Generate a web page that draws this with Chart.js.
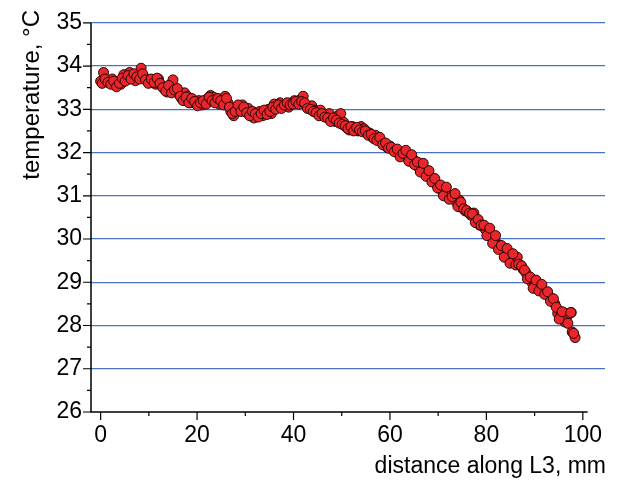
<!DOCTYPE html>
<html>
<head>
<meta charset="utf-8">
<script src="https://cdn.jsdelivr.net/npm/chart.js@4.4.1/dist/chart.umd.min.js"></script>
<style>
  html, body { margin: 0; padding: 0; background: #fff; }
</style>
</head>
<body>
<canvas id="chart" width="620" height="486"></canvas>
<script>
// distance along L3 (mm), first pass of readings
const distance = [
  0, 0.6, 1.2, 1.8, 2.4, 3.0, 3.6, 4.2, 4.8, 5.4, 6.0, 6.6, 7.2, 7.8, 8.4, 9.0, 9.6,
  10.2, 10.8, 11.4, 12.0, 12.6, 13.2, 13.8, 14.4, 15.0, 15.6, 16.2, 16.8, 17.4, 18.0, 18.6, 19.2, 19.8,
  20.4, 21.0, 21.6, 22.2, 22.8, 23.4, 24.0, 24.6, 25.2, 25.8, 26.4, 27.0, 27.6, 28.2, 28.8, 29.4, 30.0,
  30.6, 31.2, 31.8, 32.4, 33.0, 33.6, 34.2, 34.8, 35.4, 36.0, 36.6, 37.2, 37.8, 38.4, 39.0, 39.6, 40.2,
  40.8, 41.4, 42.0, 42.6, 43.2, 43.8, 44.4, 45.0, 45.6, 46.2, 46.8, 47.4, 48.0, 48.6, 49.2, 49.8, 50.4,
  51.0, 51.6, 52.2, 52.8, 53.4, 54.0, 54.6, 55.2, 55.8, 56.4, 57.0, 57.6, 58.2, 58.8, 59.4, 60.0, 60.6,
  61.2, 61.8, 62.4, 63.0, 63.6, 64.2, 64.8, 65.4, 66.0, 66.6, 67.2, 67.8, 68.4, 69.0, 69.6, 70.2, 70.8,
  71.4, 72.0, 72.6, 73.2, 73.8, 74.4, 75.0, 75.6, 76.2, 76.8, 77.4, 78.0, 78.6, 79.2, 79.8, 80.4, 81.0,
  81.6, 82.2, 82.8, 83.4, 84.0, 84.6, 85.2, 85.8, 86.4, 87.0, 87.6, 88.2, 88.8, 89.4, 90.0, 90.6, 91.2,
  91.8, 92.4, 93.0, 93.6, 94.2, 94.8, 95.4, 96.0, 96.3, 96.6, 97.2, 97.6, 97.8, 98.4
];

// temperature (°C), first pass
const temperature = [
  33.65, 33.85, 33.68, 33.62, 33.70, 33.55, 33.63, 33.58, 33.80, 33.68, 33.85, 33.72, 33.66, 33.80, 33.95, 33.74, 33.70,
  33.62, 33.68, 33.58, 33.70, 33.55, 33.48, 33.40, 33.45, 33.68, 33.42, 33.35, 33.25, 33.38, 33.30, 33.15, 33.22, 33.12,
  33.20, 33.10, 33.18, 33.25, 33.32, 33.28, 33.18, 33.12, 33.22, 33.30, 33.15, 32.95, 32.85, 33.00, 33.05, 33.10, 32.98,
  33.02, 32.90, 32.80, 32.88, 32.95, 32.85, 32.92, 33.00, 32.90, 33.12, 33.05, 33.15, 33.08, 33.12, 33.05, 33.15, 33.20,
  33.15, 33.22, 33.30, 33.10, 33.05, 33.08, 32.98, 32.95, 32.98, 32.88, 32.85, 32.90, 32.78, 32.72, 32.85, 32.90, 32.70,
  32.58, 32.52, 32.60, 32.55, 32.50, 32.60, 32.55, 32.48, 32.45, 32.35, 32.40, 32.30, 32.25, 32.20, 32.12, 32.15, 32.08,
  32.05, 31.98, 32.00, 31.95, 31.88, 31.80, 31.85, 31.75, 31.65, 31.72, 31.60, 31.55, 31.45, 31.40, 31.28, 31.18, 31.12,
  31.10, 31.05, 31.00, 30.95, 30.85, 30.90, 30.72, 30.65, 30.62, 30.55, 30.60, 30.42, 30.32, 30.30, 30.22, 30.10, 30.05,
  29.98, 29.90, 29.85, 29.75, 29.70, 29.60, 29.55, 29.50, 29.58, 29.40, 29.30, 29.22, 29.10, 29.00, 28.95, 28.90, 28.92,
  28.82, 28.75, 28.68, 28.60, 28.50, 28.28, 28.22, 28.30, 28.08, 28.18, 28.28, 28.30, 27.85, 27.72
];

// second pass of readings, in between the first
const distance2 = [
  0.3, 0.9, 1.5, 2.1, 2.7, 3.3, 3.9, 4.5, 5.1, 5.7, 6.3, 6.9, 7.5, 8.1, 8.7, 9.3, 9.9,
  10.5, 11.1, 11.7, 12.3, 12.9, 13.5, 14.1, 14.7, 15.3, 15.9, 16.5, 17.1, 17.7, 18.3, 18.9, 19.5, 20.1,
  20.7, 21.3, 21.9, 22.5, 23.1, 23.7, 24.3, 24.9, 25.5, 26.1, 26.7, 27.3, 27.9, 28.5, 29.1, 29.7, 30.3,
  30.9, 31.5, 32.1, 32.7, 33.3, 33.9, 34.5, 35.1, 35.7, 36.3, 36.9, 37.5, 38.1, 38.7, 39.3, 39.9, 40.5,
  41.1, 41.7, 42.3, 42.9, 43.5, 44.1, 44.7, 45.3, 45.9, 46.5, 47.1, 47.7, 48.3, 48.9, 49.5, 50.1, 50.7,
  51.3, 51.9, 52.5, 53.1, 53.7, 54.3, 54.9, 55.5, 56.1, 56.7, 57.3, 57.9, 58.5, 59.1, 59.7, 60.3, 60.9,
  61.5, 62.1, 62.7, 63.3, 63.9, 64.5, 65.1, 65.7, 66.3, 66.9, 67.5, 68.1, 68.7, 69.3, 69.9, 70.5, 71.1,
  71.7, 72.3, 72.9, 73.5, 74.1, 74.7, 75.3, 75.9, 76.5, 77.1, 77.7, 78.3, 78.9, 79.5, 80.1, 80.7, 81.3,
  81.9, 82.5, 83.1, 83.7, 84.3, 84.9, 85.5, 86.1, 86.7, 87.3, 87.9, 88.5, 89.1, 89.7, 90.3, 90.9, 91.5,
  92.1, 92.7, 93.3, 93.9, 94.5, 95.1, 95.7, 96.9, 97.5, 98.1
];

const temperature2 = [
  33.60, 33.70, 33.62, 33.58, 33.65, 33.52, 33.60, 33.72, 33.65, 33.78, 33.70, 33.82, 33.75, 33.70, 33.82, 33.68, 33.60,
  33.70, 33.62, 33.72, 33.60, 33.50, 33.42, 33.55, 33.38, 33.45, 33.48, 33.30, 33.20, 33.28, 33.15, 33.25, 33.18, 33.08,
  33.15, 33.20, 33.12, 33.28, 33.20, 33.15, 33.25, 33.20, 33.10, 33.25, 33.05, 32.90, 32.95, 33.10, 32.95, 33.05, 32.92,
  32.85, 32.95, 32.90, 32.82, 32.90, 32.98, 32.88, 32.95, 33.05, 33.00, 33.10, 33.02, 33.10, 33.15, 33.10, 33.12, 33.18,
  33.12, 33.18, 33.15, 33.02, 33.00, 32.95, 32.92, 32.85, 32.90, 32.82, 32.80, 32.72, 32.80, 32.75, 32.68, 32.65, 32.62,
  32.55, 32.60, 32.50, 32.58, 32.52, 32.48, 32.50, 32.40, 32.42, 32.32, 32.28, 32.35, 32.18, 32.22, 32.10, 32.12, 32.02,
  32.08, 31.90, 31.98, 32.05, 31.80, 31.95, 31.72, 31.78, 31.55, 31.75, 31.45, 31.58, 31.32, 31.40, 31.18, 31.25, 31.00,
  31.20, 30.92, 30.98, 31.05, 30.75, 30.85, 30.70, 30.66, 30.60, 30.58, 30.38, 30.45, 30.32, 30.32, 30.08, 30.25, 29.90,
  30.08, 29.76, 29.85, 29.58, 29.78, 29.44, 29.66, 29.40, 29.42, 29.38, 29.28, 29.08, 29.12, 28.86, 29.05, 28.80, 28.95,
  28.72, 28.78, 28.56, 28.62, 28.42, 28.15, 28.32, 28.05, 28.30, 27.82
];

const xTicks = [0, 20, 40, 60, 80, 100];
const xMinorTicks = [10, 30, 50, 70, 90];
const yTicks = [26, 27, 28, 29, 30, 31, 32, 33, 34, 35];
const yMinorTicks = [26.5, 27.5, 28.5, 29.5, 30.5, 31.5, 32.5, 33.5, 34.5];

const FONT = 'Liberation Sans, Arial, sans-serif';

// axis lines, tick marks and axis titles
const axesPlugin = {
  id: 'axes',
  afterDraw(chart) {
    const ctx = chart.ctx;
    const xs = chart.scales.x, ys = chart.scales.y;
    const area = chart.chartArea;
    const x0 = area.left, yb = area.bottom;
    ctx.save();
    ctx.strokeStyle = '#000';
    ctx.lineWidth = 1.5;
    ctx.beginPath();
    ctx.moveTo(x0, ys.getPixelForValue(35));
    ctx.lineTo(x0, yb);
    ctx.lineTo(xs.getPixelForValue(101), yb);
    ctx.stroke();
    ctx.lineWidth = 1.2;
    ctx.beginPath();
    xTicks.forEach(v => { const p = xs.getPixelForValue(v); ctx.moveTo(p, yb); ctx.lineTo(p, yb + 8); });
    xMinorTicks.forEach(v => { const p = xs.getPixelForValue(v); ctx.moveTo(p, yb); ctx.lineTo(p, yb + 4); });
    yTicks.forEach(v => { const p = ys.getPixelForValue(v); ctx.moveTo(x0, p); ctx.lineTo(x0 - 8, p); });
    yMinorTicks.forEach(v => { const p = ys.getPixelForValue(v); ctx.moveTo(x0, p); ctx.lineTo(x0 - 4, p); });
    ctx.stroke();

    ctx.fillStyle = '#000';
    ctx.font = '23px ' + FONT;
    ctx.textAlign = 'right';
    ctx.textBaseline = 'middle';
    ctx.fillText('distance along L3, mm', 606, 467);

    ctx.font = '24px ' + FONT;
    ctx.translate(32, 10);
    ctx.rotate(-Math.PI / 2);
    ctx.textAlign = 'right';
    ctx.fillText('temperature, \u00B0C', 0, 0);
    ctx.restore();
  }
};

const points = distance.map((d, i) => ({ x: d, y: temperature[i] }))
  .concat(distance2.map((d, i) => ({ x: d, y: temperature2[i] })));

new Chart(document.getElementById('chart'), {
  type: 'scatter',
  data: {
    datasets: [{
      data: points,
      pointRadius: 5,
      pointBackgroundColor: '#e8262b',
      pointBorderColor: '#2a0505',
      pointBorderWidth: 1,
      showLine: false
    }]
  },
  options: {
    responsive: false,
    animation: false,
    layout: { padding: { top: 20, right: 15, left: 0, bottom: 0 } },
    plugins: { legend: { display: false }, tooltip: { enabled: false } },
    scales: {
      x: {
        type: 'linear',
        min: -2,
        max: 104.6,
        afterBuildTicks: s => { s.ticks = xTicks.map(v => ({ value: v })); },
        afterFit: s => { s.height = 74; },
        grid: { display: false, drawTicks: false },
        border: { display: false },
        ticks: { color: '#000', font: { family: FONT, size: 23 }, padding: 10, maxRotation: 0, autoSkip: false }
      },
      y: {
        min: 26,
        max: 35,
        afterBuildTicks: s => { s.ticks = yTicks.map(v => ({ value: v })); },
        afterFit: s => { s.width = 91; },
        grid: {
          drawTicks: false,
          color: c => (c.tick && c.tick.value === 26 ? 'rgba(0,0,0,0)' : '#4a72c2'),
          lineWidth: 1.2
        },
        border: { display: false },
        ticks: { color: '#000', font: { family: FONT, size: 23 }, padding: 9 }
      }
    }
  },
  plugins: [axesPlugin]
});
</script>
</body>
</html>
